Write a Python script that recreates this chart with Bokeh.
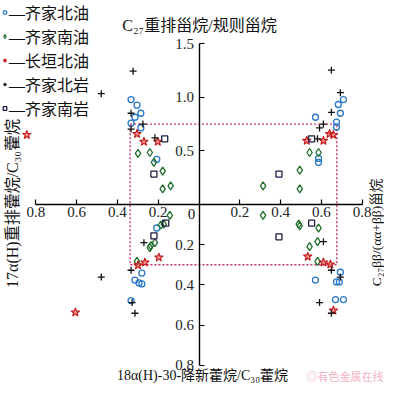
import math
from bokeh.plotting import figure
from bokeh.models import (LinearAxis, FixedTicker, CustomJSTickFormatter, Legend,
                          LegendItem)
from bokeh.core.properties import value
from bokeh.embed import file_html
from bokeh.resources import INLINE

# ---------------- data ----------------
# Each quadrant: x = magnitude along the horizontal axis, y = magnitude along the vertical axis
# UL: 17a(H)重排藿烷/C30藿烷 vs C27重排甾烷/规则甾烷
# UR: C27bb/(aa+bb)甾烷 vs C27重排甾烷/规则甾烷
# LL: 17a(H)重排藿烷/C30藿烷 vs 18a(H)-30-降新藿烷/C30藿烷
# LR: C27bb/(aa+bb)甾烷 vs 18a(H)-30-降新藿烷/C30藿烷

# 齐家北油 (circles)
qjby_ul_x = [0.333, 0.304, 0.285, 0.314, 0.333, 0.285, 0.207]
qjby_ul_y = [0.979, 0.927, 0.851, 0.814, 0.759, 0.714, 0.421]
qjby_ur_x = [0.708, 0.683, 0.693, 0.571, 0.674, 0.674, 0.586, 0.586]
qjby_ur_y = [0.979, 0.933, 0.851, 0.814, 0.769, 0.723, 0.430, 0.393]
qjby_ll_x = [0.207, 0.280, 0.314, 0.294, 0.280, 0.333]
qjby_ll_y = [0.117, 0.341, 0.376, 0.390, 0.395, 0.478]
qjby_lr_x = [0.693, 0.571, 0.674, 0.688, 0.669, 0.708]
qjby_lr_y = [0.337, 0.376, 0.385, 0.385, 0.473, 0.473]

# 齐家南油 (diamonds)
qjny_ul_x = [0.299, 0.241, 0.221, 0.178, 0.178, 0.139]
qjny_ul_y = [0.476, 0.485, 0.393, 0.311, 0.146, 0.174]
qjny_ur_x = [0.542, 0.586, 0.494, 0.314, 0.494]
qjny_ur_y = [0.485, 0.485, 0.320, 0.174, 0.146]
qjny_ll_x = [0.143, 0.187, 0.173, 0.216, 0.236, 0.241, 0.304]
qjny_ll_y = [0.054, 0.102, 0.098, 0.190, 0.205, 0.215, 0.283]
qjny_lr_x = [0.314, 0.489, 0.494, 0.586, 0.581, 0.542, 0.581]
qjny_lr_y = [0.054, 0.098, 0.107, 0.117, 0.185, 0.210, 0.283]

# 长垣北油 (stars)
cyby_ul_x = [0.844, 0.304, 0.270, 0.202]
cyby_ul_y = [0.650, 0.659, 0.586, 0.586]
cyby_ur_x = [0.640, 0.659, 0.528, 0.610]
cyby_ur_y = [0.659, 0.650, 0.595, 0.595]
cyby_ll_x = [0.197, 0.299, 0.265, 0.606]
cyby_ll_y = [0.263, 0.302, 0.288, 0.537]
cyby_lr_x = [0.533, 0.610, 0.644, 0.659]
cyby_lr_y = [0.259, 0.288, 0.298, 0.527]

# 齐家北岩 (plus)
qjbyan_ul_x = [0.323, 0.479, 0.333, 0.275, 0.333, 0.216]
qjbyan_ul_y = [1.244, 1.034, 0.851, 0.750, 0.704, 0.622]
qjbyan_ur_x = [0.649, 0.693, 0.649, 0.610, 0.591, 0.581]
qjbyan_ur_y = [1.253, 1.043, 0.860, 0.750, 0.714, 0.613]
qjbyan_ll_x = [0.270, 0.333, 0.479, 0.328, 0.314]
qjbyan_ll_y = [0.190, 0.327, 0.361, 0.488, 0.541]
qjbyan_lr_x = [0.610, 0.649, 0.693, 0.591, 0.649]
qjbyan_lr_y = [0.185, 0.327, 0.361, 0.488, 0.541]

# 齐家南岩 (squares)
qjnyan_ul_x = [0.168, 0.221]
qjnyan_ul_y = [0.613, 0.284]
qjnyan_ur_x = [0.552, 0.392]
qjnyan_ur_y = [0.613, 0.284]
qjnyan_ll_x = [0.163, 0.221]
qjnyan_ll_y = [0.093, 0.156]
qjnyan_lr_x = [0.552, 0.392]
qjnyan_lr_y = [0.093, 0.161]

# threshold box (left, right, top, bottom magnitudes)
box_left = 0.338
box_right = 0.676
box_top = 0.75
box_bottom = 0.30

x_tick_vals = [0.2, 0.4, 0.6, 0.8]
top_tick_vals = [0.5, 1.0, 1.5]
bottom_tick_vals = [0.2, 0.4, 0.6, 0.8]

legend_labels = ["—齐家北油", "—齐家南油", "—长垣北油", "—齐家北岩", "—齐家南岩"]

TOP = 0.8 / 1.5   # upper half compressed scale


def combine(ulx, uly, urx, ury, llx, lly, lrx, lry):
    xs = [-v for v in ulx] + list(urx) + [-v for v in llx] + list(lrx)
    ys = ([v * TOP for v in uly] + [v * TOP for v in ury] +
          [-v for v in lly] + [-v for v in lry])
    return xs, ys


FONT = "Liberation Serif, Noto Sans CJK SC"

X0_PX, Y0_PX, SX, SY = 198.5, 204.0, 204.0, 201.0   # origin pixel & px/unit
W, H = 384, 383

p = figure(width=W, height=H, output_backend="svg", toolbar_location=None,
           x_range=(-X0_PX / SX, (W - X0_PX) / SX),
           y_range=((Y0_PX - H) / SY, Y0_PX / SY),
           x_axis_location=None, y_axis_location=None, min_border=0)
p.grid.visible = False
p.outline_line_color = None
p.background_fill_color = "white"

xaxis = LinearAxis(fixed_location=0)
xaxis.ticker = FixedTicker(ticks=[-v for v in x_tick_vals] + x_tick_vals)
xaxis.formatter = CustomJSTickFormatter(code="return Math.abs(tick).toFixed(1);")
xaxis.bounds = (-0.8, 0.8)
yaxis = LinearAxis(fixed_location=0)
yaxis.ticker = FixedTicker(ticks=[v * TOP for v in top_tick_vals] + [-v for v in bottom_tick_vals])
yaxis.formatter = CustomJSTickFormatter(
    code="return tick > 0 ? (tick / %r).toFixed(1) : Math.abs(tick).toFixed(1);" % TOP)
yaxis.bounds = (-0.8, 0.8)
for ax in (xaxis, yaxis):
    ax.axis_line_color = "black"
    ax.axis_line_width = 1.4
    ax.major_tick_line_color = "black"
    ax.major_tick_line_width = 1.2
    ax.major_tick_in = 5
    ax.major_tick_out = 0
    ax.minor_tick_line_color = None
    ax.major_label_text_font = FONT
    ax.major_label_text_font_size = "15px"
    ax.major_label_text_color = "#222222"
xaxis.major_label_standoff = 2
yaxis.major_label_standoff = 5
p.add_layout(xaxis, "below")
p.add_layout(yaxis, "left")

# threshold box
p.line([-box_left, box_right, box_right, -box_left, -box_left],
       [box_top * TOP, box_top * TOP, -box_bottom, -box_bottom, box_top * TOP],
       line_color="#c8306a", line_width=1.4, line_dash="2 2")

series = [
    (combine(qjby_ul_x, qjby_ul_y, qjby_ur_x, qjby_ur_y, qjby_ll_x, qjby_ll_y, qjby_lr_x, qjby_lr_y),
     dict(marker="circle", size=6, line_color="#2a78c8", fill_color=None, line_width=1.3)),
    (combine(qjny_ul_x, qjny_ul_y, qjny_ur_x, qjny_ur_y, qjny_ll_x, qjny_ll_y, qjny_lr_x, qjny_lr_y),
     dict(marker="diamond", size=8, line_color="#1f6e2a", fill_color=None, line_width=1.3)),
    (combine(cyby_ul_x, cyby_ul_y, cyby_ur_x, cyby_ur_y, cyby_ll_x, cyby_ll_y, cyby_lr_x, cyby_lr_y),
     dict(marker="star", size=9, line_color="#c01818", fill_color="#f06060", fill_alpha=0.7,
          line_width=1.1)),
    (combine(qjbyan_ul_x, qjbyan_ul_y, qjbyan_ur_x, qjbyan_ur_y, qjbyan_ll_x, qjbyan_ll_y, qjbyan_lr_x, qjbyan_lr_y),
     dict(marker="cross", size=7, line_color="#111111", line_width=1.3)),
    (combine(qjnyan_ul_x, qjnyan_ul_y, qjnyan_ur_x, qjnyan_ur_y, qjnyan_ll_x, qjnyan_ll_y, qjnyan_lr_x, qjnyan_lr_y),
     dict(marker="square", size=6, line_color="#1c1c44", fill_color=None, line_width=1.3)),
]

items = []
for (xs, ys), style in zip([s[0] for s in series], [s[1] for s in series]):
    r = p.scatter(xs, ys, **style)
    items.append(r)

legend = Legend(items=[LegendItem(label=lab, renderers=[r]) for lab, r in zip(legend_labels, items)],
                location="top_left", orientation="vertical")
legend.margin = 0
legend.padding = 0
legend.spacing = 0
legend.glyph_width = 9
legend.glyph_height = 18
legend.label_height = 18
legend.label_standoff = 0
legend.border_line_color = None
legend.background_fill_alpha = 0
legend.label_text_font = FONT
legend.label_text_font_size = "16px"
legend.label_text_color = "#111111"
p.add_layout(legend)


def dx(px):
    return (px - X0_PX) / SX


def dy(py):
    return (Y0_PX - py) / SY


txt = dict(text_font=value(FONT), text_color="#111111", text_baseline="middle")
p.text([dx(199)], [dy(25)], text=["C₂₇重排甾烷/规则甾烷"], text_align="center",
       text_font_size="16px", **txt)
p.text([dx(202)], [dy(375)], text=["18α(H)-30-降新藿烷/C₃₀藿烷"], text_align="center",
       text_font_size="14px", **txt)
p.text([dx(12)], [dy(203)], text=["17α(H)重排藿烷/C₃₀藿烷"], text_align="center",
       angle=math.pi / 2, text_font_size="16px", **txt)
p.text([dx(375.5)], [dy(232)], text=["C₂₇ββ/(αα+ββ)甾烷"], text_align="center",
       angle=math.pi / 2, text_font_size="13.5px", **txt)
p.text([dx(191)], [dy(213)], text=["0"], text_align="center",
       text_font_size="15px", **txt)
p.text([dx(383)], [dy(375)], text=["◎有色金属在线"], text_align="right",
       text_font=value("Noto Sans CJK SC"), text_font_size="11px",
       text_color="#f2b4bf", text_baseline="middle")

open("out.html", "w").write(file_html(p, INLINE))
